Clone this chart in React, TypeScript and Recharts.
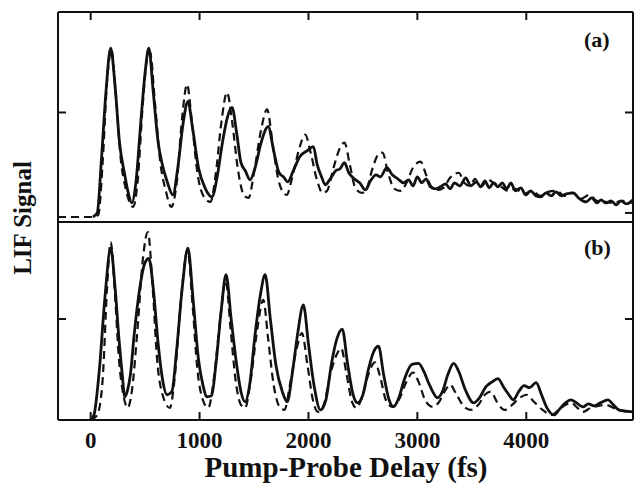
import { LineChart, Line, XAxis, YAxis } from 'recharts';

// x ticks (fs) shared by both panels
const xTicks = [0, 1000, 2000, 3000, 4000];
const aLeftTicks = [1];
const aRightTicks = [0, 1];
const bTicks = [1];

// panel (a) — solid trace
const aSolidT = [20, 60, 100, 140, 184, 225, 265, 313, 345, 378, 415, 460, 500, 534, 575, 620, 654, 700, 755, 800, 850, 893, 935, 990, 1050, 1114, 1160, 1210, 1255, 1298, 1340, 1380, 1420, 1464, 1510, 1565, 1630, 1680, 1730, 1770, 1810, 1860, 1920, 1990, 2045, 2080, 2120, 2155, 2200, 2250, 2290, 2330, 2370, 2420, 2470, 2523, 2570, 2620, 2660, 2720, 2770, 2820, 2873, 2920, 2960, 3000, 3040, 3080, 3120, 3170, 3210, 3260, 3300, 3340, 3390, 3444, 3490, 3540, 3582, 3620, 3660, 3700, 3738, 3780, 3820, 3858, 3900, 3950, 3996, 4040, 4090, 4134, 4180, 4230, 4272, 4320, 4370, 4430, 4480, 4550, 4600, 4650, 4687, 4730, 4780, 4825, 4870, 4920, 4980];
const aSolidV = [-0.04, 0.0, 0.55, 1.2, 1.64, 1.25, 0.7, 0.38, 0.2, 0.1, 0.3, 0.9, 1.4, 1.64, 1.2, 0.7, 0.5, 0.32, 0.18, 0.45, 0.9, 1.11, 0.85, 0.45, 0.25, 0.16, 0.35, 0.7, 0.95, 1.05, 0.8, 0.5, 0.42, 0.33, 0.45, 0.7, 0.86, 0.62, 0.4, 0.36, 0.31, 0.42, 0.56, 0.62, 0.66, 0.48, 0.36, 0.28, 0.34, 0.42, 0.44, 0.5, 0.4, 0.34, 0.3, 0.23, 0.32, 0.38, 0.36, 0.45, 0.38, 0.34, 0.3, 0.33, 0.27, 0.36, 0.3, 0.34, 0.26, 0.24, 0.26, 0.29, 0.24, 0.3, 0.27, 0.35, 0.27, 0.31, 0.26, 0.32, 0.25, 0.3, 0.26, 0.3, 0.24, 0.3, 0.22, 0.25, 0.18, 0.22, 0.17, 0.16, 0.2, 0.17, 0.21, 0.17, 0.19, 0.2, 0.15, 0.11, 0.15, 0.1, 0.13, 0.1, 0.12, 0.08, 0.12, 0.09, 0.13];

// panel (a) — dashed trace
const aDashT = [-300, 20, 70, 110, 150, 190, 230, 275, 320, 360, 390, 430, 480, 520, 545, 590, 640, 690, 740, 790, 840, 885, 930, 980, 1040, 1100, 1150, 1200, 1252, 1300, 1350, 1410, 1450, 1500, 1560, 1620, 1670, 1720, 1770, 1800, 1850, 1910, 1970, 2020, 2080, 2130, 2170, 2230, 2290, 2330, 2380, 2430, 2490, 2530, 2590, 2640, 2680, 2730, 2790, 2850, 2900, 2960, 3030, 3080, 3130, 3190, 3240, 3300, 3380, 3430, 3480, 3530, 3580, 3650, 3700, 3760, 3830, 3900, 3980, 4050, 4130, 4200, 4280, 4350, 4430, 4500, 4580, 4650, 4730, 4800, 4880, 4980];
const aDashV = [-0.04, -0.04, -0.02, 0.5, 1.3, 1.62, 1.2, 0.55, 0.25, 0.1, 0.06, 0.3, 1.1, 1.55, 1.6, 1.1, 0.5, 0.22, 0.06, 0.3, 0.95, 1.28, 0.9, 0.4, 0.16, 0.11, 0.4, 0.9, 1.2, 0.9, 0.45, 0.17, 0.15, 0.4, 0.8, 1.03, 0.7, 0.35, 0.2, 0.18, 0.35, 0.62, 0.78, 0.6, 0.32, 0.2, 0.22, 0.45, 0.65, 0.7, 0.48, 0.25, 0.2, 0.23, 0.45, 0.58, 0.6, 0.4, 0.24, 0.22, 0.3, 0.45, 0.51, 0.38, 0.26, 0.23, 0.25, 0.35, 0.4, 0.3, 0.27, 0.34, 0.26, 0.33, 0.3, 0.27, 0.22, 0.24, 0.19, 0.22, 0.17, 0.21, 0.22, 0.17, 0.2, 0.14, 0.18, 0.12, 0.11, 0.1, 0.12, 0.1];

// panel (b) — solid trace
const bSolidT = [0, 30, 80, 130, 184, 225, 260, 290, 313, 340, 365, 400, 450, 500, 534, 575, 620, 660, 700, 745, 790, 840, 893, 940, 990, 1030, 1068, 1110, 1150, 1200, 1243, 1290, 1340, 1380, 1418, 1460, 1510, 1560, 1602, 1650, 1700, 1760, 1805, 1850, 1900, 1953, 2000, 2050, 2110, 2160, 2210, 2260, 2310, 2360, 2410, 2450, 2500, 2550, 2600, 2643, 2690, 2740, 2780, 2830, 2880, 2950, 3010, 3060, 3110, 3186, 3230, 3280, 3333, 3380, 3440, 3517, 3570, 3630, 3690, 3740, 3790, 3840, 3880, 3930, 3980, 4030, 4090, 4140, 4190, 4255, 4300, 4350, 4410, 4460, 4520, 4570, 4620, 4680, 4750, 4800, 4850, 4900, 4980];
const bSolidV = [0, 0.05, 0.5, 1.2, 1.7, 1.3, 0.8, 0.45, 0.23, 0.3, 0.45, 0.85, 1.3, 1.56, 1.6, 1.3, 0.75, 0.4, 0.25, 0.28, 0.7, 1.3, 1.7, 1.2, 0.6, 0.35, 0.23, 0.24, 0.55, 1.1, 1.44, 1.0, 0.55, 0.28, 0.18, 0.35, 0.85, 1.25, 1.44, 1.0, 0.55, 0.28, 0.18, 0.45, 0.85, 1.14, 0.75, 0.35, 0.1, 0.2, 0.55, 0.8, 0.9, 0.55, 0.25, 0.17, 0.25, 0.5, 0.68, 0.73, 0.45, 0.2, 0.13, 0.22, 0.4, 0.55, 0.56, 0.48, 0.35, 0.22, 0.28, 0.45, 0.56, 0.48, 0.3, 0.17, 0.22, 0.33, 0.38, 0.41, 0.33, 0.25, 0.2, 0.28, 0.34, 0.32, 0.37, 0.25, 0.12, 0.05, 0.1, 0.16, 0.2, 0.17, 0.13, 0.16, 0.14, 0.17, 0.2, 0.15, 0.1, 0.09, 0.08];

// panel (b) — dashed trace
const bDashT = [0, 60, 110, 150, 184, 220, 260, 300, 340, 380, 430, 480, 525, 570, 610, 660, 727, 770, 830, 890, 935, 980, 1030, 1080, 1130, 1190, 1240, 1285, 1330, 1380, 1418, 1470, 1530, 1585, 1630, 1680, 1740, 1780, 1830, 1890, 1940, 1990, 2040, 2090, 2140, 2200, 2260, 2300, 2350, 2400, 2440, 2490, 2550, 2610, 2660, 2710, 2770, 2830, 2900, 2960, 3010, 3070, 3140, 3200, 3260, 3300, 3360, 3430, 3490, 3560, 3620, 3675, 3730, 3800, 3870, 3940, 4005, 4070, 4150, 4230, 4300, 4360, 4410, 4470, 4520, 4590, 4660, 4730, 4800, 4880, 4980];
const bDashV = [0, 0.05, 0.4, 1.3, 1.76, 1.3, 0.6, 0.25, 0.12, 0.3, 0.9, 1.6, 1.86, 1.3, 0.6, 0.25, 0.12, 0.4, 1.2, 1.68, 1.15, 0.5, 0.2, 0.12, 0.4, 1.0, 1.38, 0.9, 0.4, 0.15, 0.12, 0.4, 0.9, 1.19, 0.8, 0.35, 0.12, 0.1, 0.35, 0.7, 0.86, 0.55, 0.2, 0.08, 0.15, 0.45, 0.65, 0.71, 0.45, 0.18, 0.12, 0.22, 0.45, 0.57, 0.42, 0.2, 0.13, 0.2, 0.38, 0.47, 0.38, 0.2, 0.13, 0.18, 0.3, 0.35, 0.25, 0.13, 0.1, 0.15, 0.25, 0.28, 0.18, 0.1, 0.15, 0.22, 0.25, 0.18, 0.1, 0.05, 0.1, 0.15, 0.17, 0.12, 0.08, 0.12, 0.14, 0.15, 0.12, 0.09, 0.08];

const toPoints = (t: number[], v: number[]) => t.map((x, i) => ({ t: x, v: v[i] }));

const INK = '#111';
const SERIF = '"Liberation Serif", "Times New Roman", serif';
const TICK = 8;
const X_DOMAIN: [number, number] = [-300, 4980];
const A_DOMAIN: [number, number] = [-0.09, 2];
const B_DOMAIN: [number, number] = [0, 1.96];
const axisLine = { stroke: INK, strokeWidth: 2 };

// top / right axes: built-in tick lines, negative size turns them inward
const inward = {
  tickSize: -TICK,
  tickMargin: 0,
  interval: 0 as const,
  tickLine: { stroke: INK, strokeWidth: 2 },
  axisLine,
  tickFormatter: () => '',
  allowDataOverflow: true,
};

const tickUpLabeled = (p: any) => (
  <g key={`tu${p.index}`}>
    <line x1={p.x} y1={p.y} x2={p.x} y2={p.y - TICK} stroke={INK} strokeWidth={2} />
    <text x={p.x} y={p.y + 28} textAnchor="middle" fontFamily={SERIF} fontWeight="bold" fontSize={23} fill={INK}>
      {p.payload.value}
    </text>
  </g>
);
const tickInFromLeft = (p: any) => (
  <line key={`tl${p.index}`} x1={p.x} y1={p.y} x2={p.x + TICK} y2={p.y} stroke={INK} strokeWidth={2} />
);

const solidStyle = { stroke: INK, strokeWidth: 2.8 };
const dashStyle = { stroke: INK, strokeWidth: 2.2, strokeDasharray: '8 5' };

const App = () => {
  return (
    <div style={{ position: 'absolute', left: 0, top: 0, width: 634, height: 484, background: '#fff', fontFamily: SERIF }}>
      {/* panel (a) */}
      <div style={{ position: 'absolute', left: 0, top: 0 }}>
        <LineChart width={634} height={230} margin={{ top: 11, right: 0, bottom: 7, left: 57 }}>
          <XAxis xAxisId="b" dataKey="t" type="number" domain={X_DOMAIN} allowDataOverflow height={1} tick={false} tickLine={false} axisLine={axisLine} />
          <XAxis xAxisId="top" orientation="top" dataKey="t" type="number" domain={X_DOMAIN} height={1} ticks={xTicks} {...inward} />
          <YAxis yAxisId="l" type="number" domain={A_DOMAIN} allowDataOverflow width={1} ticks={aLeftTicks} interval={0} tick={tickInFromLeft} tickLine={false} tickSize={0} tickMargin={0} axisLine={axisLine} />
          <YAxis yAxisId="r" orientation="right" type="number" domain={A_DOMAIN} width={1} ticks={aRightTicks} {...inward} />
          <Line xAxisId="b" yAxisId="l" data={toPoints(aDashT, aDashV)} dataKey="v" type="monotone" dot={false} isAnimationActive={false} {...dashStyle} />
          <Line xAxisId="top" yAxisId="r" data={toPoints(aSolidT, aSolidV)} dataKey="v" type="monotone" dot={false} isAnimationActive={false} {...solidStyle} />
        </LineChart>
      </div>

      {/* panel (b) */}
      <div style={{ position: 'absolute', left: 0, top: 212 }}>
        <LineChart width={634} height={272} margin={{ top: 9, right: 0, bottom: 0, left: 57 }}>
          <XAxis xAxisId="b" dataKey="t" type="number" domain={X_DOMAIN} allowDataOverflow height={64} ticks={xTicks} interval={0} tick={tickUpLabeled} tickLine={false} tickSize={0} tickMargin={0} axisLine={axisLine} />
          <XAxis xAxisId="top" orientation="top" dataKey="t" type="number" domain={X_DOMAIN} allowDataOverflow height={1} tick={false} tickLine={false} axisLine={axisLine} />
          <YAxis yAxisId="l" type="number" domain={B_DOMAIN} allowDataOverflow width={1} ticks={bTicks} interval={0} tick={tickInFromLeft} tickLine={false} tickSize={0} tickMargin={0} axisLine={axisLine} />
          <YAxis yAxisId="r" orientation="right" type="number" domain={B_DOMAIN} width={1} ticks={bTicks} {...inward} />
          <Line xAxisId="top" yAxisId="r" data={toPoints(bDashT, bDashV)} dataKey="v" type="monotone" dot={false} isAnimationActive={false} {...dashStyle} />
          <Line xAxisId="b" yAxisId="l" data={toPoints(bSolidT, bSolidV)} dataKey="v" type="monotone" dot={false} isAnimationActive={false} {...solidStyle} />
        </LineChart>
      </div>

      <div style={{ position: 'absolute', left: 584, top: 29, fontSize: 22, fontWeight: 'bold', lineHeight: 1, color: INK }}>(a)</div>
      <div style={{ position: 'absolute', left: 584, top: 237, fontSize: 22, fontWeight: 'bold', lineHeight: 1, color: INK }}>(b)</div>

      <div style={{ position: 'absolute', left: 22, top: 218, transform: 'translate(-50%, -50%) rotate(-90deg)', fontSize: 25, fontWeight: 'bold', lineHeight: 1, whiteSpace: 'nowrap', color: INK }}>
        LIF Signal
      </div>
      <div style={{ position: 'absolute', left: 46, top: 453, width: 600, textAlign: 'center', fontSize: 29, fontWeight: 'bold', lineHeight: 1, whiteSpace: 'nowrap', color: INK }}>
        Pump-Probe Delay (fs)
      </div>
    </div>
  );
};

export default App;
